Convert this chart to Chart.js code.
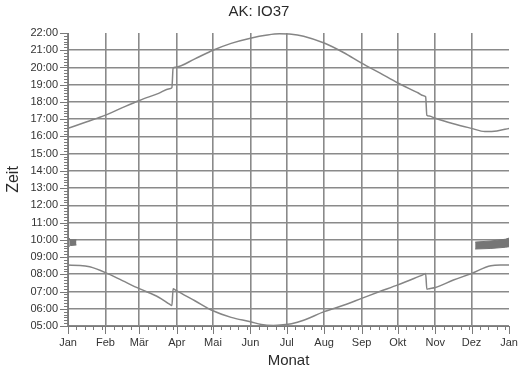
<!DOCTYPE html>
<html>
<head>
<meta charset="utf-8">
<script src="https://cdn.jsdelivr.net/npm/chart.js@4"></script>
<style>
  body { margin: 0; background: #fff; }
</style>
</head>
<body>
<canvas id="sunChart" width="518" height="374"></canvas>
<script>
// Daten: Tag im Jahr (0 = 1. Jan) und Uhrzeit

const months = ['Jan', 'Feb', 'Mär', 'Apr', 'Mai', 'Jun', 'Jul', 'Aug', 'Sep', 'Okt', 'Nov', 'Dez', 'Jan'];
const monthDays = [0, 31, 59, 90, 120, 151, 181, 212, 243, 273, 304, 334, 365];

// Sonnenuntergang (obere Kurve)
const sunsetDays = [0, 15, 31, 45, 59, 75, 84, 86, 87, 89, 105, 120, 135, 151, 165, 175, 185, 195, 212, 228, 243, 258, 273, 290, 294, 296, 297, 299, 304, 319, 334, 345, 355, 365];
const sunsetTimes = ['16:28', '16:50', '17:14', '17:40', '18:05', '18:30', '18:46', '18:50', '19:58', '20:01', '20:30', '21:00', '21:24', '21:42', '21:53', '21:57', '21:56', '21:49', '21:25', '20:52', '20:15', '19:41', '19:06', '18:31', '18:22', '18:18', '17:14', '17:11', '17:03', '16:44', '16:28', '16:17', '16:19', '16:28'];

// Sonnenaufgang (untere Kurve)
const sunriseDays = [0, 10, 18, 31, 45, 59, 75, 84, 86, 87, 89, 105, 120, 135, 151, 160, 170, 178, 185, 195, 212, 228, 243, 258, 273, 290, 294, 296, 297, 299, 304, 319, 334, 350, 358, 365];
const sunriseTimes = ['08:32', '08:31', '08:26', '08:06', '07:38', '07:10', '06:40', '06:16', '06:11', '07:10', '07:05', '06:28', '05:53', '05:30', '05:15', '05:05', '05:02', '05:04', '05:08', '05:20', '05:50', '06:12', '06:36', '07:00', '07:23', '07:52', '07:59', '08:03', '07:08', '07:10', '07:14', '07:40', '08:03', '08:30', '08:32', '08:32'];

// graue Balken um 10:00
const blobLeftDays = [1, 2, 7];
const blobLeftTop = ['10:06', '10:00', '10:00'];
const blobLeftBottom = ['09:37', '09:40', '09:42'];
const blobRightDays = [337, 350, 362, 365];
const blobRightTop = ['09:52', '09:56', '10:02', '10:06'];
const blobRightBottom = ['09:28', '09:30', '09:34', '09:36'];


function toMin(s) {
    const p = s.split(':');
    return Number(p[0]) * 60 + Number(p[1]);
}
function pts(days, times) {
    return days.map((d, i) => ({ x: d, y: toMin(times[i]) }));
}
function fmtTime(v) {
    const h = Math.floor(v / 60);
    return (h < 10 ? '0' : '') + h + ':00';
}

const FONT = "'Liberation Sans', Arial, sans-serif";
const lineGrey = '#858585';
const blobGrey = '#767676';

// Ticks (groß + klein) und Beschriftungen
const extras = {
    id: 'extras',
    afterDraw(chart) {
        const { ctx, chartArea: a, scales: { x, y } } = chart;
        ctx.save();
        ctx.strokeStyle = '#7a7a7a';
        ctx.lineWidth = 1;
        ctx.beginPath();
        // y: jede Stunde groß, alle 10 min klein
        for (let v = 300; v <= 1320; v += 10) {
            const py = Math.round(y.getPixelForValue(v)) + 0.5;
            const len = v % 60 === 0 ? 8 : 4;
            ctx.moveTo(a.left - len, py);
            ctx.lineTo(a.left, py);
        }
        // x: Monate groß, Wochen klein
        for (let i = 0; i < monthDays.length; i++) {
            const px = Math.round(x.getPixelForValue(monthDays[i])) + 0.5;
            ctx.moveTo(px, a.bottom);
            ctx.lineTo(px, a.bottom + 8);
            if (i < monthDays.length - 1) {
                for (let d = monthDays[i] + 7; d < monthDays[i + 1]; d += 7) {
                    const mx = Math.round(x.getPixelForValue(d)) + 0.5;
                    ctx.moveTo(mx, a.bottom);
                    ctx.lineTo(mx, a.bottom + 4);
                }
            }
        }
        ctx.stroke();

        ctx.fillStyle = '#2a2a2a';
        ctx.textAlign = 'center';
        ctx.textBaseline = 'middle';
        ctx.font = '15px ' + FONT;
        ctx.fillText('AK: IO37', 259, 12);
        ctx.fillText('Monat', (a.left + a.right) / 2, 361);
        ctx.font = '16px ' + FONT;
        ctx.translate(14, (a.top + a.bottom) / 2);
        ctx.rotate(-Math.PI / 2);
        ctx.fillText('Zeit', 0, 0);
        ctx.restore();
    }
};

const sunData = {
    datasets: [
        {
            label: 'Untergang',
            data: pts(sunsetDays, sunsetTimes),
            borderColor: lineGrey,
            borderWidth: 1.5,
            pointRadius: 0,
            cubicInterpolationMode: 'monotone',
            fill: false
        }, {
            label: 'Aufgang',
            data: pts(sunriseDays, sunriseTimes),
            borderColor: lineGrey,
            borderWidth: 1.5,
            pointRadius: 0,
            cubicInterpolationMode: 'monotone',
            fill: false
        }, {
            data: pts(blobLeftDays, blobLeftTop),
            borderColor: blobGrey,
            backgroundColor: blobGrey,
            borderWidth: 1,
            pointRadius: 0,
            fill: '+1'
        }, {
            data: pts(blobLeftDays, blobLeftBottom),
            borderColor: blobGrey,
            borderWidth: 1,
            pointRadius: 0,
            fill: false
        }, {
            data: pts(blobRightDays, blobRightTop),
            borderColor: blobGrey,
            backgroundColor: blobGrey,
            borderWidth: 1,
            pointRadius: 0,
            fill: '+1'
        }, {
            data: pts(blobRightDays, blobRightBottom),
            borderColor: blobGrey,
            borderWidth: 1,
            pointRadius: 0,
            fill: false
        }
    ]
};

const sunConfig = {
    type: 'line',
    data: sunData,
    options: {
        responsive: false,
        animation: false,
        devicePixelRatio: 1,
        layout: { padding: { top: 33, right: 0, left: 0, bottom: 0 } },
        plugins: {
            legend: { display: false },
            tooltip: { enabled: false }
        },
        scales: {
            x: {
                type: 'linear',
                min: 0,
                max: 365,
                afterBuildTicks: s => { s.ticks = monthDays.map(v => ({ value: v })); },
                afterFit: s => { s.height = 48; s.paddingLeft = 0; s.paddingRight = 9; },
                ticks: {
                    autoSkip: false,
                    maxRotation: 0,
                    padding: 10,
                    color: '#333',
                    font: { family: FONT, size: 11 },
                    callback: (v, i) => months[i]
                },
                grid: {
                    drawTicks: false,
                    lineWidth: 1.6,
                    color: c => (c.tick && c.tick.value === 365) ? 'rgba(0,0,0,0)' : '#8a8a8a'
                },
                border: { color: '#7a7a7a', width: 1 }
            },
            y: {
                type: 'linear',
                min: 300,
                max: 1320,
                afterFit: s => { s.width = 68; },
                ticks: {
                    stepSize: 60,
                    padding: 10,
                    color: '#333',
                    font: { family: FONT, size: 11 },
                    callback: v => fmtTime(v)
                },
                grid: {
                    drawTicks: false,
                    lineWidth: 1.6,
                    color: c => (c.tick && c.tick.value === 1320) ? 'rgba(0,0,0,0)' : '#8a8a8a'
                },
                border: { color: '#7a7a7a', width: 1 }
            }
        }
    },
    plugins: [extras]
};

const sunChart = new Chart(document.querySelector('#sunChart'), sunConfig);
</script>
</body>
</html>
